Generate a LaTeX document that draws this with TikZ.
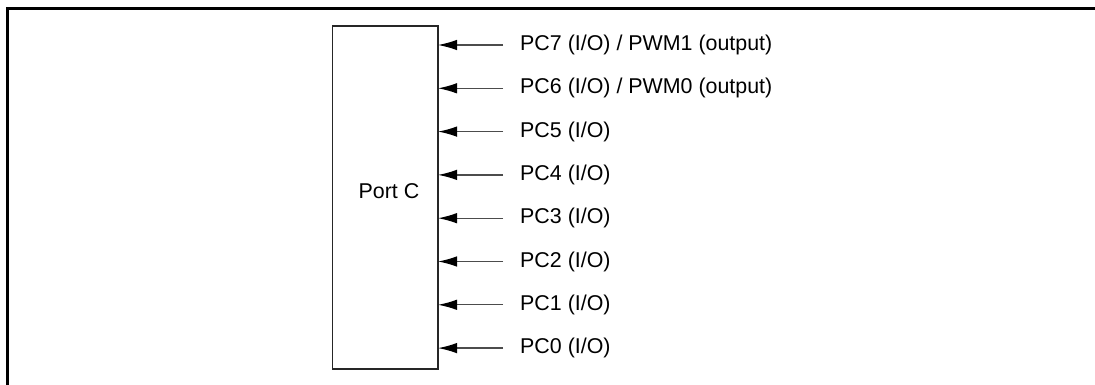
\documentclass[tikz,border=0pt]{standalone}
\usepackage{fontspec}
\setmainfont{Liberation Sans}
\usetikzlibrary{arrows.meta,positioning}

\begin{document}
\begin{tikzpicture}[>=Latex, x=1pt, y=-1pt, font=\fontsize{21.4}{25}\selectfont]

  % parameters
  \def\rowtop{45}    % y of the first pin
  \def\rowstep{43.3} % distance between pins

  \useasboundingbox (0,0) rectangle (1095,385);

  % outer frame (only top and left edges show)
  \draw[line width=3pt] (7,385) -- (7,9) -- (1095,9);

  % port block
  \draw[line width=1.4pt, draw=black!85] (332.5,26) rectangle (438,369);
  \coordinate (blockE) at (438,26);
  \node (portc) at (389,191) {Port C};

  % pins
  \foreach \i/\txt in {0/{PC7 (I/O) / PWM1 (output)},
                       1/{PC6 (I/O) / PWM0 (output)},
                       2/{PC5 (I/O)},
                       3/{PC4 (I/O)},
                       4/{PC3 (I/O)},
                       5/{PC2 (I/O)},
                       6/{PC1 (I/O)},
                       7/{PC0 (I/O)}} {
    \coordinate (tail\i) at (503,{\rowtop+\i*\rowstep});
    \node[anchor=west, inner sep=0pt] (pin\i) at (520,{\rowtop+\i*\rowstep}) {\txt};
    \draw[->, line width=1.3pt, black!70, >={Latex[length=19pt,width=10.5pt,fill=black,color=black]}]
      (tail\i) -- (blockE |- tail\i);
  }

\end{tikzpicture}
\end{document}
